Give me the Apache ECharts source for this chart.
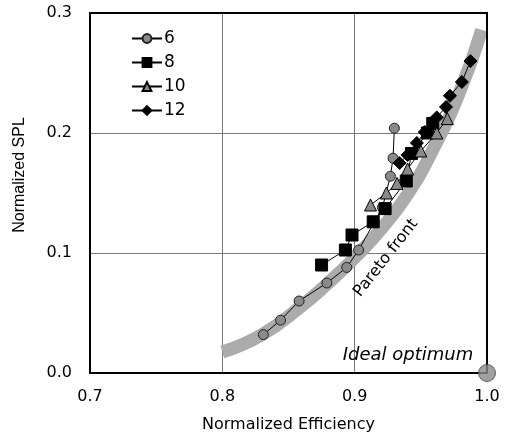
<!DOCTYPE html>
<html><head><meta charset="utf-8">
<script src="https://cdn.jsdelivr.net/npm/echarts@6/dist/echarts.min.js"></script>
<style>html,body{margin:0;padding:0;background:#fff}#c{width:507px;height:440px}</style>
</head><body><div id="c"></div>
<script>
const xTicks = [0.7, 0.8, 0.9, 1.0];
const yTicks = [0.0, 0.1, 0.2, 0.3];
const s6 = [[0.831,0.032],[0.844,0.044],[0.858,0.060],[0.879,0.075],[0.894,0.088],[0.903,0.1025],[0.921,0.138],[0.927,0.164],[0.929,0.179],[0.930,0.204]];
const s8 = [[0.875,0.090],[0.893,0.1025],[0.898,0.115],[0.914,0.126],[0.923,0.137],[0.939,0.160],[0.943,0.183],[0.955,0.200],[0.959,0.208]];
const s10 = [[0.912,0.140],[0.924,0.150],[0.932,0.158],[0.940,0.170],[0.950,0.185],[0.962,0.200],[0.970,0.212]];
const s12 = [[0.934,0.175],[0.940,0.1817],[0.947,0.1917],[0.953,0.2008],[0.962,0.213],[0.969,0.2217],[0.972,0.231],[0.981,0.2425],[0.9875,0.260]];
const pareto = [[0.800,0.0175],[0.830,0.032],[0.860,0.056],[0.880,0.075],[0.900,0.096],[0.920,0.120],[0.940,0.149],[0.960,0.188],[0.980,0.236],[0.996,0.286]];
const ideal = [[1.0, 0.0]];
const seriesNames = ['6','8','10','12'];

const chart = echarts.init(document.getElementById('c'), null, {renderer:'canvas'});
const font = 'Liberation Sans';
const tickFont = 'DejaVu Sans';
const lineS = {color:'#000', width:1};
chart.setOption({
  animation:false,
  backgroundColor:'#fff',
  grid:{left:90, right:20, top:13, bottom:67},
  legend:{
    data:seriesNames, orient:'vertical', left:126, top:25, itemWidth:30, itemHeight:11, itemGap:7,
    textStyle:{fontFamily:'DejaVu Sans', fontSize:17, color:'#000', padding:[0,0,0,-3]}
  },
  xAxis:{type:'value', min:0.7, max:1.0, interval:0.1,
    name:'Normalized Efficiency', nameLocation:'middle', nameGap:44,
    nameTextStyle:{fontFamily:tickFont, fontSize:16, color:'#000'},
    axisLine:{show:true, lineStyle:{color:'#000', width:2}},
    axisTick:{show:false},
    axisLabel:{fontFamily:tickFont, fontSize:16, color:'#000', margin:16, formatter:v=>v.toFixed(1)},
    splitLine:{show:true, lineStyle:{color:'#777', width:1}}
  },
  yAxis:{type:'value', min:0, max:0.3, interval:0.1,
    name:'Normalized SPL', nameLocation:'middle', nameGap:62, nameRotate:90,
    nameTextStyle:{fontFamily:font, fontSize:16, color:'#000', padding:[0,0,0,36]},
    axisLine:{show:true, lineStyle:{color:'#000', width:2}},
    axisTick:{show:false},
    axisLabel:{fontFamily:tickFont, fontSize:16, color:'#000', margin:18, formatter:v=>v.toFixed(1)},
    splitLine:{show:true, lineStyle:{color:'#777', width:1}}
  },
  graphic:[
    {type:'rect', shape:{x:90, y:13, width:397, height:360}, style:{fill:'none', stroke:'#000', lineWidth:2}, z:50, silent:true},
    {type:'text', x:386, y:258, rotation:52*Math.PI/180, style:{text:'Pareto front', font:'16px "DejaVu Sans"', fill:'#000', align:'center', verticalAlign:'middle'}, z:60},
    {type:'text', x:408, y:355, style:{text:'Ideal optimum', font:'oblique 18px "DejaVu Sans"', fill:'#000', align:'center', verticalAlign:'middle'}, z:60}
  ],
  series:[
    {name:'pareto', type:'line', data:pareto, showSymbol:false, smooth:true, z:1,
      lineStyle:{color:'#ababab', width:13, cap:'butt'}, legendHoverLink:false, silent:true},
    {name:'6', type:'line', data:s6, symbol:'circle', symbolSize:10, z:3,
      itemStyle:{color:'#8a8a8a', borderColor:'#222', borderWidth:1}, lineStyle:lineS},
    {name:'8', type:'line', data:s8, symbol:'rect', symbolSize:12, z:4,
      itemStyle:{color:'#000', borderColor:'#000', borderWidth:1}, lineStyle:lineS},
    {name:'10', type:'line', data:s10, symbol:'triangle', symbolSize:12, z:5,
      itemStyle:{color:'#8a8a8a', borderColor:'#000', borderWidth:1}, lineStyle:lineS},
    {name:'12', type:'line', data:s12, symbol:'diamond', symbolSize:13, z:6,
      itemStyle:{color:'#000', borderColor:'#000', borderWidth:1}, lineStyle:lineS},
    {name:'ideal', type:'scatter', data:ideal, symbol:'circle', symbolSize:17, clip:false, z:70, zlevel:1,
      itemStyle:{color:'#8a8a8a', borderColor:'#444', borderWidth:1}}
  ]
});
</script></body></html>
